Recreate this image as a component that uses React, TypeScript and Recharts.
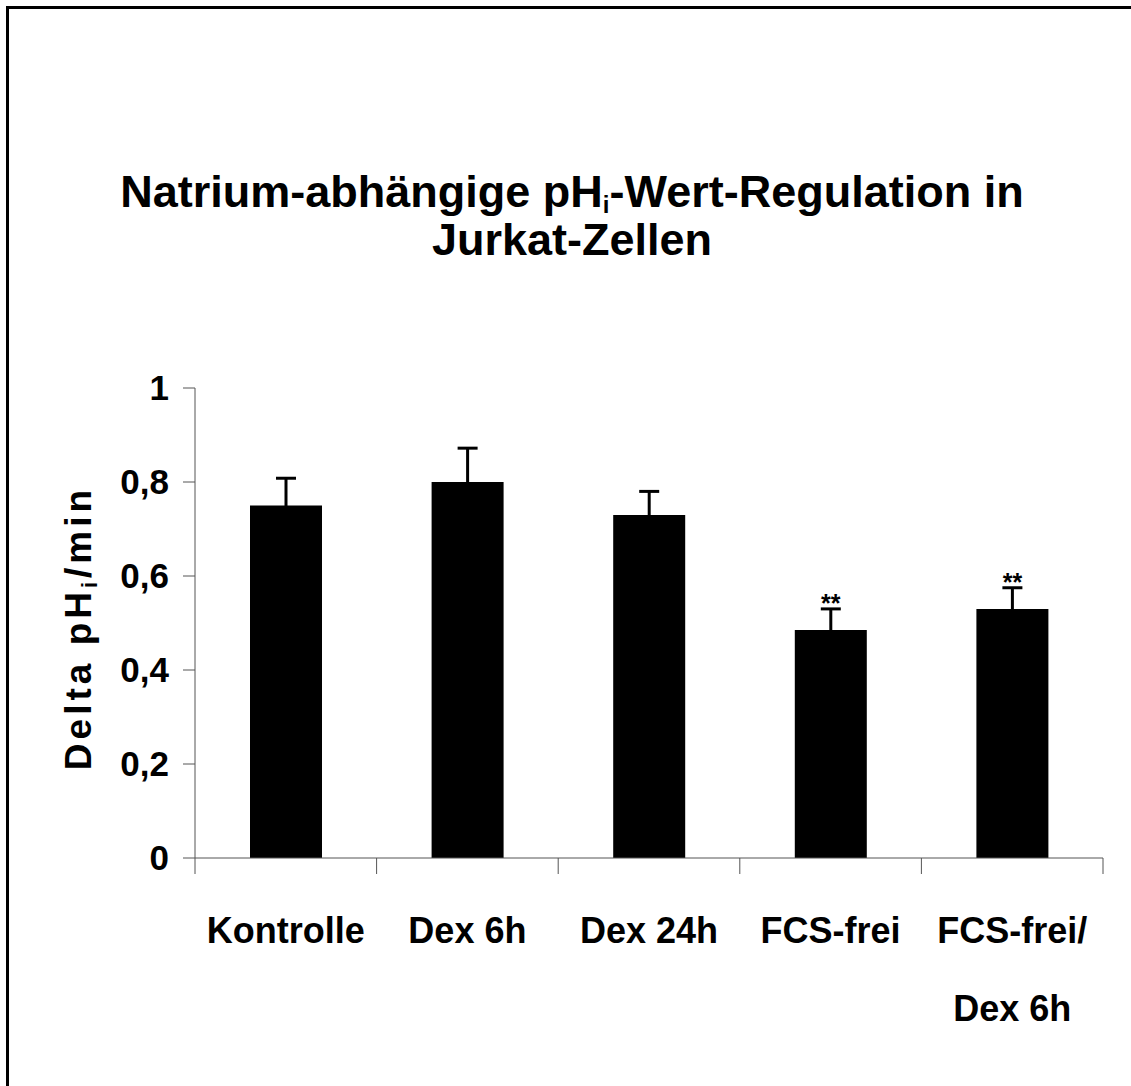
import { Bar, BarChart, ErrorBar, LabelList, XAxis, YAxis } from "recharts";

const categories = ["Kontrolle", "Dex 6h", "Dex 24h", "FCS-frei", "FCS-frei/\nDex 6h"];
const values = [0.75, 0.8, 0.73, 0.485, 0.53];
const errors = [0.058, 0.072, 0.05, 0.045, 0.045];
const marks = ["", "", "", "**", "**"];
const yTicks = [0, 0.2, 0.4, 0.6, 0.8, 1];

// symmetric SD; the lower half sits inside the black bar, as in the original
const data = categories.map((name, i) => ({
  name,
  value: values[i],
  err: [errors[i], errors[i]],
  mark: marks[i],
}));

const W = 1131;
const H = 1086;
const FONT = "'Liberation Sans', Arial, Helvetica, sans-serif";
const PLOT_LEFT = 195;
const PLOT_RIGHT = 28;
const PLOT_TOP = 388;
const PLOT_BOTTOM = 858;
const X_AXIS_H = 150;
const BAND = (W - PLOT_LEFT - PLOT_RIGHT) / categories.length;

function XTick(props: any) {
  const { x, y, payload, index } = props;
  const axisY = y - 16;
  const lines = String(payload.value).split("\n");
  return (
    <g>
      <line x1={x - BAND / 2} x2={x - BAND / 2} y1={axisY} y2={axisY + 16} stroke="#555" />
      {index === categories.length - 1 && (
        <line x1={x + BAND / 2} x2={x + BAND / 2} y1={axisY} y2={axisY + 16} stroke="#555" />
      )}
      <text x={x} y={axisY + 85} textAnchor="middle" fontFamily={FONT} fontWeight="bold" fontSize={36} fill="#000">
        {lines.map((l, k) => (
          <tspan key={k} x={x} dy={k === 0 ? 0 : 78}>
            {l}
          </tspan>
        ))}
      </text>
    </g>
  );
}

function StarLabel(props: any) {
  const { x, y, width, value, index } = props;
  if (!value) return null;
  const pxPerUnit = PLOT_BOTTOM - PLOT_TOP;
  const errTop = y - errors[index] * pxPerUnit;
  return (
    <text x={x + width / 2} y={errTop + 3} textAnchor="middle" fontFamily={FONT} fontWeight="bold" fontSize={25} fill="#000">
      {value}
    </text>
  );
}

function YLabel() {
  const cx = 91;
  const cy = 628;
  return (
    <text
      x={cx}
      y={cy}
      transform={`rotate(-90, ${cx}, ${cy})`}
      textAnchor="middle"
      fontFamily={FONT}
      fontWeight="bold"
      fontSize={37}
      letterSpacing={4}
      fill="#000"
    >
      Delta pH
      <tspan fontSize={22} dy={6}>i</tspan>
      <tspan dy={-6}>/min</tspan>
    </text>
  );
}

export default function App() {
  return (
    <div style={{ position: "absolute", left: 0, top: 0, width: W, height: H, background: "#fff", overflow: "hidden" }}>
      <div
        style={{
          position: "absolute",
          left: 6,
          top: 6,
          width: W + 50,
          height: H + 50,
          borderLeft: "3px solid #000",
          borderTop: "3px solid #000",
        }}
      />
      <div
        style={{
          position: "absolute",
          left: 0,
          top: 168,
          width: 1144,
          textAlign: "center",
          fontFamily: FONT,
          fontWeight: "bold",
          fontSize: 45,
          lineHeight: "48px",
          color: "#000",
        }}
      >
        Natrium-abhängige pH
        <span style={{ fontSize: 24, verticalAlign: "-6px", lineHeight: 0 }}>i</span>
        -Wert-Regulation in
        <br />
        Jurkat-Zellen
      </div>
      <div style={{ position: "absolute", left: 0, top: 0 }}>
        <BarChart
          width={W}
          height={H}
          data={data}
          margin={{ top: PLOT_TOP, right: PLOT_RIGHT, left: PLOT_LEFT - 120, bottom: H - PLOT_BOTTOM - X_AXIS_H }}
        >
          <XAxis
            dataKey="name"
            height={X_AXIS_H}
            interval={0}
            tickLine={false}
            tickSize={16}
            tickMargin={0}
            axisLine={{ stroke: "#555" }}
            tick={<XTick />}
          />
          <YAxis
            width={120}
            domain={[0, 1]}
            ticks={yTicks}
            interval={0}
            tickSize={12}
            tickMargin={14}
            axisLine={{ stroke: "#555" }}
            tickLine={{ stroke: "#555" }}
            tick={{ fontFamily: FONT, fontWeight: "bold", fontSize: 35, fill: "#000" }}
            tickFormatter={(v: number) => String(v).replace(".", ",")}
            label={<YLabel />}
          />
          <Bar dataKey="value" fill="#000" barSize={72} isAnimationActive={false}>
            <ErrorBar dataKey="err" direction="y" width={10} strokeWidth={3} stroke="#000" />
            <LabelList dataKey="mark" content={<StarLabel />} />
          </Bar>
        </BarChart>
      </div>
    </div>
  );
}
